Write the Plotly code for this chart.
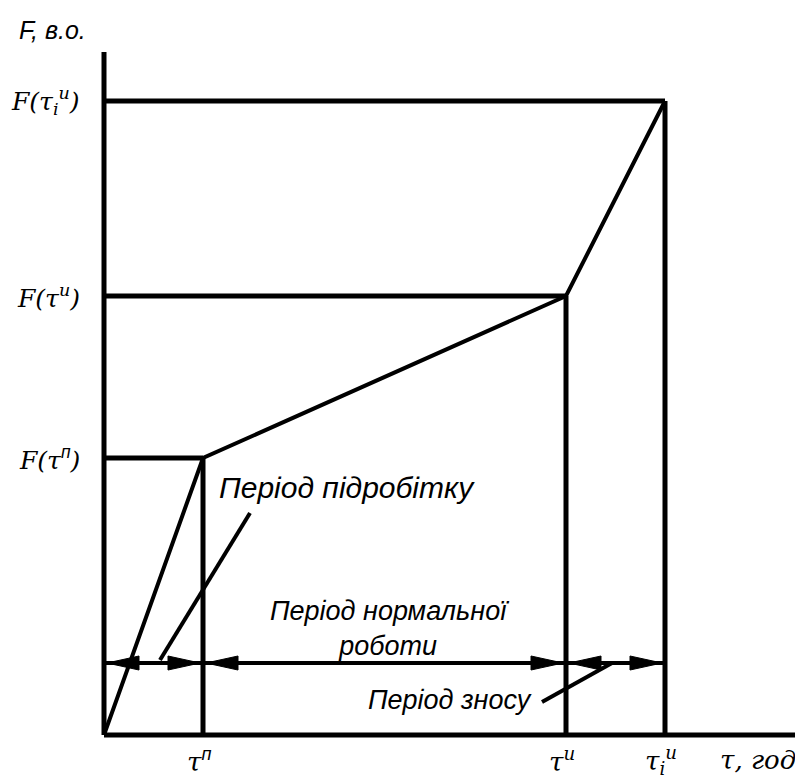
import plotly.graph_objects as go

# ---- data (units chosen so that the figure geometry matches) ----
TAU = [99, 462, 561]          # τп, τи, τіи
F_VALUES = [277, 439, 634]    # F(τп), F(τи), F(τіи)
DIM_Y = 72                    # level of the period dimension line
POINTER_1 = ([146, 56], [222, 75])    # pointer to "Період підробітку"
POINTER_2 = ([438, 508], [33, 72])    # pointer to "Період зносу"

P_SUP = "<sup><span style=\"font-family:'Liberation Sans'\">п</span></sup>"
Y_LABELS = [
    "F(τ" + P_SUP + ")",
    "F(τ<sup>и</sup>)",
    "F(τ<sub>i</sub><sup>и</sup>)",
]
X_LABELS = ["τ" + P_SUP, "τ<sup>и</sup>", "τ<sub>i</sub><sup>и</sup>"]

X_MAX, Y_MAX = 699, 683
ARROW_LEN, ARROW_HALF = 32, 7
LW = 5
SERIF = "DejaVu Serif"
SANS = "Liberation Sans"

fig = go.Figure()

line_style = dict(color="black", width=LW)

for t, f in zip(TAU, F_VALUES):
    fig.add_trace(go.Scatter(x=[0, t], y=[f, f], mode="lines", line=line_style,
                             hoverinfo="skip", showlegend=False))
    fig.add_trace(go.Scatter(x=[t, t], y=[0, f], mode="lines", line=line_style,
                             hoverinfo="skip", showlegend=False))

fig.add_trace(go.Scatter(x=[0] + TAU, y=[0] + F_VALUES, mode="lines",
                         line=dict(color="black", width=4),
                         hoverinfo="skip", showlegend=False))

fig.add_trace(go.Scatter(x=[0, TAU[-1]], y=[DIM_Y, DIM_Y], mode="lines",
                         line=dict(color="black", width=4),
                         hoverinfo="skip", showlegend=False))

bounds = [0] + TAU
ax, ay = [], []
gap = 3
for a, b in zip(bounds[:-1], bounds[1:]):
    tip = a + gap
    ax += [tip, tip + ARROW_LEN, tip + ARROW_LEN, tip, None]
    ay += [DIM_Y, DIM_Y + ARROW_HALF, DIM_Y - ARROW_HALF, DIM_Y, None]
    tip = b - gap
    ax += [tip, tip - ARROW_LEN, tip - ARROW_LEN, tip, None]
    ay += [DIM_Y, DIM_Y + ARROW_HALF, DIM_Y - ARROW_HALF, DIM_Y, None]
fig.add_trace(go.Scatter(x=ax, y=ay, mode="lines", fill="toself",
                         fillcolor="black", line=dict(color="black", width=1),
                         hoverinfo="skip", showlegend=False))

for px, py in (POINTER_1, POINTER_2):
    fig.add_trace(go.Scatter(x=px, y=py, mode="lines",
                             line=dict(color="black", width=4),
                             hoverinfo="skip", showlegend=False))


def px_(v):
    return v / X_MAX


def py_(v):
    return v / Y_MAX


ann = []
for f, lab in zip(F_VALUES, Y_LABELS):
    ann.append(dict(x=px_(-22), y=py_(f), xref="paper", yref="paper",
                    text=f"<i>{lab}</i>", showarrow=False,
                    xanchor="right", yanchor="middle",
                    font=dict(family=SERIF, size=25, color="black")))
for t, lab in zip(TAU, X_LABELS):
    ann.append(dict(x=px_(t - 4), y=py_(-25), xref="paper", yref="paper",
                    text=f"<i>{lab}</i>", showarrow=False,
                    xanchor="center", yanchor="middle",
                    font=dict(family=SERIF, size=26, color="black")))
ann.append(dict(x=px_(654), y=py_(-25), xref="paper", yref="paper",
                text="<i>τ, год</i>", showarrow=False,
                xanchor="center", yanchor="middle",
                font=dict(family=SERIF, size=26, color="black")))
ann.append(dict(x=px_(-52), y=py_(705), xref="paper", yref="paper",
                text="<i>F, в.о.</i>", showarrow=False,
                xanchor="center", yanchor="middle",
                font=dict(family=SANS, size=25, color="black")))
ann.append(dict(x=113, y=248, text="<i>Період підробітку</i>", showarrow=False,
                xanchor="left", yanchor="middle",
                font=dict(family=SANS, size=30, color="black")))
ann.append(dict(x=285, y=107, text="<i>Період нормальної<br>роботи</i>",
                showarrow=False, xanchor="center", yanchor="middle",
                font=dict(family=SANS, size=27, color="black")))
ann.append(dict(x=346, y=35, text="<i>Період зносу</i>", showarrow=False,
                xanchor="center", yanchor="middle",
                font=dict(family=SANS, size=27, color="black")))

# page body has an 8px margin: shrink the figure so the plot lands in place
fig.update_layout(
    width=795, height=770,
    margin=dict(l=96, r=0, t=44, b=43),
    paper_bgcolor="white", plot_bgcolor="white",
    xaxis=dict(range=[0, X_MAX], visible=False, fixedrange=True),
    yaxis=dict(range=[0, Y_MAX], visible=False, fixedrange=True),
    annotations=ann,
    shapes=[
        dict(type="line", xref="paper", yref="paper", x0=0, x1=1, y0=0, y1=0,
             line=dict(color="black", width=LW)),
        dict(type="line", xref="paper", yref="paper", x0=0, x1=0, y0=0, y1=1,
             line=dict(color="black", width=LW)),
    ],
    showlegend=False,
)

fig.write_html("out.html")
